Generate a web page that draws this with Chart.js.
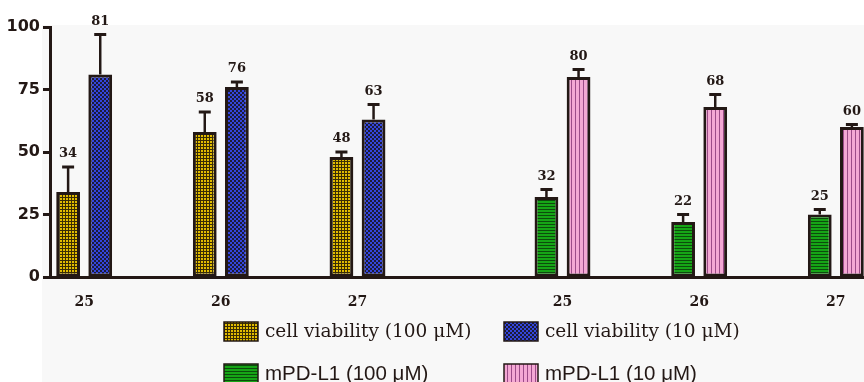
<!DOCTYPE html>
<html>
<head>
<meta charset="utf-8">
<script src="https://cdn.jsdelivr.net/npm/chart.js@4"></script>
<style>
  html, body { margin: 0; padding: 0; background: #ffffff; overflow: hidden; }
  #chart { display: block; }
</style>
</head>
<body>
<canvas id="chart" width="870" height="382"></canvas>
<script>
// slots: three compounds, a spacer, the same three compounds again
const xLabels = ["25", "", "26", "", "27", "", "", "25", "", "26", "", "27"];

const viability100 = [34, null, 58, null, 48, null, null, null, null, null, null, null];
const viability100Err = [10, null, 8, null, 2, null, null, null, null, null, null, null];
const viability10 = [81, null, 76, null, 63, null, null, null, null, null, null, null];
const viability10Err = [16, null, 2, null, 6, null, null, null, null, null, null, null];
const pdl1100 = [null, null, null, null, null, null, null, 32, null, 22, null, 25];
const pdl1100Err = [null, null, null, null, null, null, null, 3, null, 3, null, 2];
const pdl110 = [null, null, null, null, null, null, null, 80, null, 68, null, 60];
const pdl110Err = [null, null, null, null, null, null, null, 3, null, 5, null, 1];

const yTicks = [0, 25, 50, 75, 100];

const DARK = "#231815";

function makePattern(w, h, draw) {
  const c = document.createElement("canvas");
  c.width = w;
  c.height = h;
  const g = c.getContext("2d");
  draw(g);
  return g.createPattern(c, "repeat");
}

const goldFill = makePattern(3, 3, (g) => {
  g.fillStyle = "#3a2d04";
  g.fillRect(0, 0, 3, 3);
  g.fillStyle = "#e2bc00";
  g.fillRect(0, 0, 2, 2);
});
const blueFill = makePattern(4, 4, (g) => {
  g.fillStyle = "#1c1b38";
  g.fillRect(0, 0, 4, 4);
  g.fillStyle = "#3446dc";
  g.fillRect(0, 0, 2, 2);
  g.fillRect(2, 2, 2, 2);
});
const greenFill = makePattern(1, 3, (g) => {
  g.fillStyle = "#16a516";
  g.fillRect(0, 0, 1, 2);
  g.fillStyle = "#0c4c0c";
  g.fillRect(0, 2, 1, 1);
});
const pinkFill = makePattern(4, 1, (g) => {
  g.fillStyle = "#f4a8d4";
  g.fillRect(0, 0, 3, 1);
  g.fillStyle = "#9c4c88";
  g.fillRect(3, 0, 1, 1);
});

const bgPanel = {
  id: "bgPanel",
  beforeDraw(chart) {
    const ctx = chart.ctx;
    ctx.save();
    ctx.fillStyle = "#f8f8f8";
    ctx.fillRect(42, 25, chart.width - 42, chart.height - 25);
    ctx.restore();
  },
};

const errorBars = {
  id: "errorBars",
  afterDatasetsDraw(chart) {
    const ctx = chart.ctx;
    const yScale = chart.scales.y;
    chart.data.datasets.forEach((ds, di) => {
      const meta = chart.getDatasetMeta(di);
      meta.data.forEach((bar, i) => {
        const v = ds.data[i];
        if (v == null) return;
        const top = yScale.getPixelForValue(v + ds.errors[i]);
        ctx.save();
        ctx.strokeStyle = DARK;
        ctx.lineWidth = 2.5;
        ctx.beginPath();
        ctx.moveTo(bar.x, bar.y);
        ctx.lineTo(bar.x, top);
        ctx.stroke();
        ctx.lineWidth = 3;
        ctx.beginPath();
        ctx.moveTo(bar.x - 6, top);
        ctx.lineTo(bar.x + 6, top);
        ctx.stroke();
        ctx.fillStyle = DARK;
        ctx.font = "bold 13px 'DejaVu Serif'";
        ctx.textAlign = "center";
        ctx.textBaseline = "middle";
        ctx.fillText(String(v), bar.x, top - 13);
        ctx.restore();
      });
    });
  },
};

// hand drawn legend: two rows, serif on the first row, sans on the second
const legendBoxes = {
  id: "legendBoxes",
  afterDraw(chart) {
    const ctx = chart.ctx;
    const cols = [224, 504];
    const rows = [331, 373];
    const fonts = ["18.5px 'DejaVu Serif'", "20.5px 'Liberation Sans'"];
    chart.data.datasets.forEach((ds, i) => {
      const col = i % 2;
      const row = Math.floor(i / 2);
      const x = cols[col];
      const y = rows[row];
      ctx.save();
      ctx.fillStyle = ds.backgroundColor;
      ctx.fillRect(x, y - 9, 34, 19);
      ctx.strokeStyle = DARK;
      ctx.lineWidth = 1.5;
      ctx.strokeRect(x, y - 9, 34, 19);
      ctx.fillStyle = DARK;
      ctx.font = fonts[row];
      ctx.textAlign = "left";
      ctx.textBaseline = "middle";
      ctx.fillText(ds.label, x + 41, y + 1);
      ctx.restore();
    });
  },
};

const barStyle = {
  borderColor: DARK,
  borderWidth: 3,
  borderSkipped: false,
  skipNull: true,
  categoryPercentage: 0.94,
  barPercentage: 0.74,
};

new Chart(document.getElementById("chart"), {
  type: "bar",
  data: {
    labels: xLabels,
    datasets: [
      { label: "cell viability (100 μM)", data: viability100, errors: viability100Err, backgroundColor: goldFill, ...barStyle },
      { label: "cell viability (10 μM)", data: viability10, errors: viability10Err, backgroundColor: blueFill, ...barStyle },
      { label: "mPD-L1 (100 μM)", data: pdl1100, errors: pdl1100Err, backgroundColor: greenFill, ...barStyle },
      { label: "mPD-L1 (10 μM)", data: pdl110, errors: pdl110Err, backgroundColor: pinkFill, ...barStyle },
    ],
  },
  plugins: [bgPanel, errorBars, legendBoxes],
  options: {
    responsive: false,
    animation: false,
    layout: { padding: { top: 27, right: 0, left: 0, bottom: 0 } },
    plugins: {
      legend: { display: false },
      tooltip: { enabled: false },
    },
    scales: {
      x: {
        offset: true,
        grid: { display: false },
        border: { display: true, color: DARK, width: 3 },
        ticks: {
          autoSkip: false,
          maxRotation: 0,
          padding: 9,
          color: DARK,
          font: { family: "'DejaVu Serif'", size: 14, weight: "bold" },
        },
        afterFit: (s) => {
          s.height = 105;
        },
      },
      y: {
        min: 0,
        max: 100,
        afterBuildTicks: (s) => {
          s.ticks = yTicks.map((v) => ({ value: v }));
        },
        grid: {
          drawOnChartArea: false,
          drawTicks: true,
          tickLength: 7,
          tickWidth: 3,
          tickColor: DARK,
        },
        border: { display: true, color: DARK, width: 3 },
        ticks: {
          padding: 3,
          color: DARK,
          font: { family: "'DejaVu Sans'", size: 16, weight: "bold" },
        },
        afterFit: (s) => {
          s.width = 50;
        },
      },
    },
  },
});
</script>
</body>
</html>
